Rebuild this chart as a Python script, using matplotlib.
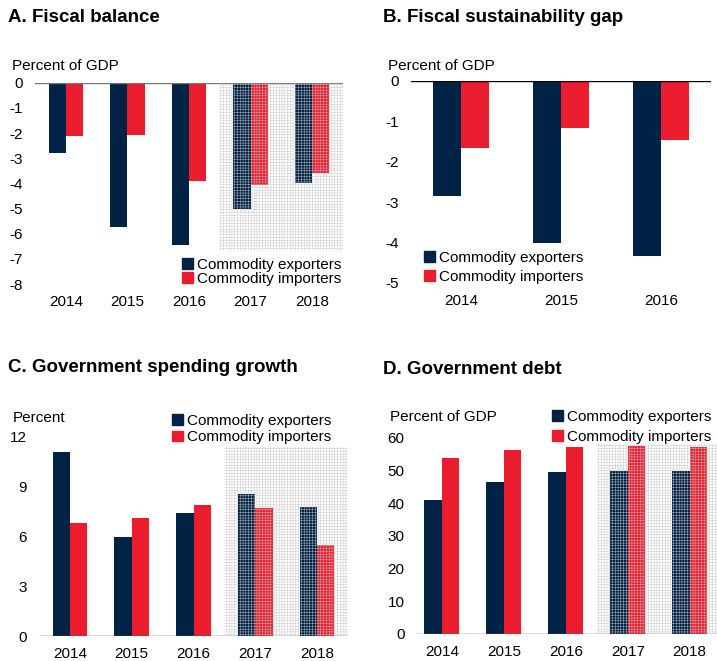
import matplotlib
matplotlib.use("Agg")
import matplotlib.pyplot as plt
import numpy as np
from matplotlib.patches import Rectangle

plt.rcParams["font.family"] = ["Liberation Sans", "DejaVu Sans"]
plt.rcParams["hatch.linewidth"] = 0.3

NAVY = "#002345"
RED = "#EB1C2E"
W, H = 717, 661

years5 = ["2014", "2015", "2016", "2017", "2018"]
years3 = ["2014", "2015", "2016"]
labels = ["Commodity exporters", "Commodity importers"]

# A. Fiscal balance (percent of GDP)
bal_exp = [-2.8, -5.75, -6.45, -5.0, -4.0]
bal_imp = [-2.1, -2.08, -3.9, -4.07, -3.6]
# B. Fiscal sustainability gap (percent of GDP)
gap_exp = [-2.84, -4.0, -4.33]
gap_imp = [-1.66, -1.16, -1.45]
# C. Government spending growth (percent)
spd_exp = [11.05, 5.98, 7.38, 8.58, 7.77]
spd_imp = [6.8, 7.12, 7.88, 7.68, 5.45]
# D. Government debt (percent of GDP)
debt_exp = [40.8, 46.4, 49.6, 49.9, 49.9]
debt_imp = [53.8, 56.1, 57.2, 57.6, 57.2]

FS = 11


def px_axes(fig, x0, x1, y0, y1):
    """Axes from pixel box (x0..x1 left-right, y0..y1 top-bottom)."""
    return fig.add_axes([x0 / W, 1 - y1 / H, (x1 - x0) / W, (y1 - y0) / H])


def draw_panel(ax, cats, exp, imp, ylim, yticks, zcolor, xlim, shade=None):
    x = np.arange(len(cats))
    bw = 0.28
    ax.bar(x - bw / 2, exp, bw, color=NAVY, zorder=2)
    ax.bar(x + bw / 2, imp, bw, color=RED, zorder=2)
    ax.axhline(0, color=zcolor, lw=1.0, zorder=3)
    if shade is not None:
        x0, ytop = shade
        rect = Rectangle((x0, 0), xlim[1] - x0, ytop, facecolor="none",
                         edgecolor="#c4c4c4", lw=0, hatch="++++++", zorder=4)
        ax.add_patch(rect)
    ax.set_xlim(*xlim)
    ax.set_ylim(*ylim)
    ax.set_yticks(yticks)
    ax.set_yticklabels([f"{t:g}" for t in yticks])
    ax.set_xticks(x)
    ax.set_xticklabels(cats)
    ax.tick_params(length=0, labelsize=FS)
    ax.tick_params(axis="y", pad=9)
    ax.tick_params(axis="x", pad=8)
    for s in ax.spines.values():
        s.set_visible(False)
    ax.patch.set_alpha(0)


def add_legend(fig, x, y, spacing):
    hs = [Rectangle((0, 0), 1, 1, color=NAVY), Rectangle((0, 0), 1, 1, color=RED)]
    fig.legend(hs, labels, loc="upper left", bbox_to_anchor=(x / W, 1 - y / H),
               frameon=False, fontsize=FS, handlelength=0.7, handleheight=0.7,
               handletextpad=0.3, borderpad=0, borderaxespad=0,
               labelspacing=spacing)


fig = plt.figure(figsize=(W / 100, H / 100), dpi=100)

# Panel A
axA = px_axes(fig, 35, 343, 82.7, 284)
draw_panel(axA, years5, bal_exp, bal_imp, (-8, 0), range(-8, 1), "#777777",
           (-0.5, 4.5), shade=(2.5, -6.7))
fig.text(8 / W, 1 - 17 / H, "A. Fiscal balance", fontsize=13.5, fontweight="bold", va="center")
fig.text(12 / W, 1 - 66 / H, "Percent of GDP", fontsize=FS, va="center")
add_legend(fig, 182, 258, 0.0)

# Panel B
axB = px_axes(fig, 411, 711, 81, 283)
draw_panel(axB, years3, gap_exp, gap_imp, (-5, 0), range(-5, 1), "black",
           (-0.5, 2.5))
fig.text(383 / W, 1 - 17 / H, "B. Fiscal sustainability gap", fontsize=13.5,
         fontweight="bold", va="center")
fig.text(388 / W, 1 - 66 / H, "Percent of GDP", fontsize=FS, va="center")
add_legend(fig, 424, 251, 0.3)

# Panel C
axC = px_axes(fig, 39, 348, 436.7, 636)
draw_panel(axC, years5, spd_exp, spd_imp, (0, 12), range(0, 13, 3), "#555555",
           (-0.5, 4.5), shade=(2.5, 11.35))
fig.text(8 / W, 1 - 368 / H, "C. Government spending growth", fontsize=13.5,
         fontweight="bold", va="center")
fig.text(13 / W, 1 - 418 / H, "Percent", fontsize=FS, va="center")
add_legend(fig, 172, 414, 0.15)

# Panel D
axD = px_axes(fig, 417, 717, 437.7, 633.7)
draw_panel(axD, years5, debt_exp, debt_imp, (0, 60), range(0, 61, 10), "#555555",
           (-0.4, 4.44), shade=(2.5, 58))
fig.text(383 / W, 1 - 369 / H, "D. Government debt", fontsize=13.5,
         fontweight="bold", va="center")
fig.text(390 / W, 1 - 417 / H, "Percent of GDP", fontsize=FS, va="center")
add_legend(fig, 552, 410, 0.4)

fig.savefig("out.png", dpi=100)
